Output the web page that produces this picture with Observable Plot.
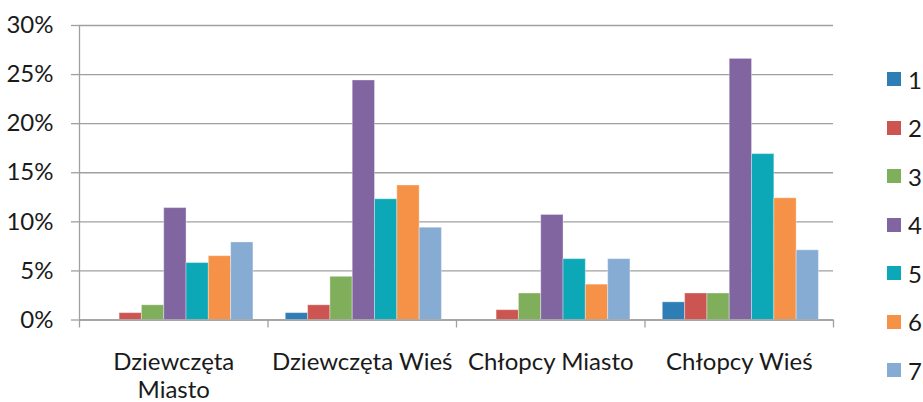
<!DOCTYPE html>
<html><head><meta charset="utf-8">
<script src="https://cdn.jsdelivr.net/npm/d3@7"></script>
<script src="https://cdn.jsdelivr.net/npm/@observablehq/plot@0.6"></script>
<style>
body{margin:0;background:#fff;font-family:Lato,"Open Sans",sans-serif;}
#wrap{position:relative;width:923px;height:402px;}
#legend{position:absolute;left:887px;top:55px;}
.item{height:48.5px;display:flex;align-items:center;font-size:24px;color:#1a1a1a;}
.sw{width:14px;height:14px;margin-right:7px;flex:none;}
</style></head><body><div id="wrap"></div>
<script>
const categories = ["Dziewczęta Miasto", "Dziewczęta Wieś", "Chłopcy Miasto", "Chłopcy Wieś"];
const categoryLabels = ["Dziewczęta\nMiasto", "Dziewczęta Wieś", "Chłopcy Miasto", "Chłopcy Wieś"];
const series = ["1", "2", "3", "4", "5", "6", "7"];
const colors = ["#2e7db4", "#cc5552", "#80af5c", "#8065a0", "#0ca8b7", "#f69148", "#87acd3"];
// values in percent, one array per series, in category order
const s1 = [0, 0.7, 0, 1.8];
const s2 = [0.7, 1.5, 1.0, 2.7];
const s3 = [1.5, 4.4, 2.7, 2.7];
const s4 = [11.4, 24.4, 10.7, 26.6];
const s5 = [5.8, 12.3, 6.2, 16.9];
const s6 = [6.5, 13.7, 3.6, 12.4];
const s7 = [7.9, 9.4, 6.2, 7.1];
const yTicks = [0, 0.05, 0.10, 0.15, 0.20, 0.25, 0.30];

const seriesValues = [s1, s2, s3, s4, s5, s6, s7];
const rows = [];
categories.forEach((c, ci) => {
  series.forEach((s, si) => rows.push({cat: c, ci, s, v: seriesValues[si][ci] / 100}));
});
const inner = d3.scaleBand().domain(series).range([0, 1]).paddingInner(0).paddingOuter(0.725).align(0.55);
const gray = "#a0a0a0";

const chart = Plot.plot({
  width: 923, height: 402,
  marginTop: 25, marginBottom: 82.5, marginLeft: 79, marginRight: 90,
  x: {type: "linear", domain: [0, categories.length]},
  y: {domain: [0, 0.3]},
  color: {domain: series, range: colors},
  style: {fontFamily: "Lato, 'Open Sans', sans-serif", fontSize: "24px", color: "#1a1a1a", background: "white"},
  marks: [
    Plot.gridY(yTicks, {stroke: gray, strokeOpacity: 1, strokeWidth: 1.3}),
    Plot.rectY(rows, {
      x1: d => d.ci + inner(d.s),
      x2: d => d.ci + inner(d.s) + inner.bandwidth(),
      y: "v", fill: "s", stroke: "white", strokeOpacity: 0.35, strokeWidth: 1
    }),
    Plot.ruleX([0], {stroke: gray, strokeWidth: 1.3}),
    Plot.ruleY([0], {stroke: gray, strokeWidth: 1.3}),
    Plot.axisY(yTicks, {tickFormat: d3.format(".0%"), tickSize: 8, tickPadding: 18, stroke: gray, strokeWidth: 1.3, fontSize: 24, label: null}),
    Plot.axisX(d3.range(categories.length + 1), {tickSize: 8, tickFormat: () => "", stroke: gray, strokeWidth: 1.3, label: null}),
    Plot.axisX(categories.map((c, i) => i + 0.5), {tickSize: 0, tickPadding: 30, tickFormat: d => categoryLabels[Math.floor(d)], lineHeight: 1.18, fontSize: 24, label: null})
  ]
});
const wrap = document.getElementById("wrap");
wrap.appendChild(chart);
const legend = document.createElement("div");
legend.id = "legend";
series.forEach((s, i) => {
  const it = document.createElement("div");
  it.className = "item";
  it.innerHTML = `<span class="sw" style="background:${colors[i]}"></span><span>${s}</span>`;
  legend.appendChild(it);
});
wrap.appendChild(legend);
</script></body></html>
